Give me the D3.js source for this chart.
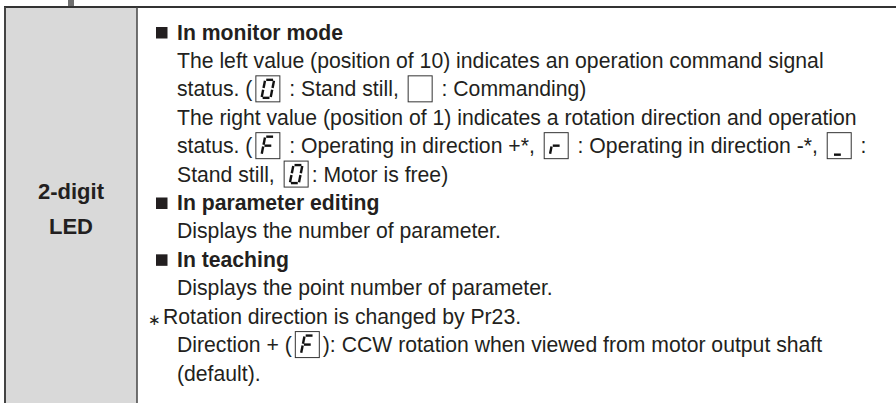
<!DOCTYPE html>
<html><head><meta charset="utf-8">
<script src="https://cdn.jsdelivr.net/npm/d3@7"></script>
<style>body{margin:0;background:#fff}svg{display:block}</style>
</head><body>
<svg id="c" width="896" height="403"></svg>
<script>
// ---- content ----
const labelLines = ["2-digit", "LED"];
const lineKinds = ["head","body","body","body","body","body","head","body","head","body","note","body","body"];
const lineSegments = [
  [{t:"In monitor mode"}],
  [{t:"The left value (position of 10) indicates an operation command signal"}],
  [{t:"status. ("},{g:"0"},{t:" : Stand still, "},{g:" "},{t:" : Commanding)"}],
  [{t:"The right value (position of 1) indicates a rotation direction and operation"}],
  [{t:"status. ("},{g:"F"},{t:" : Operating in direction +*, "},{g:"r"},{t:" : Operating in direction -*, "},{g:"_"},{t:" :"}],
  [{t:"Stand still, "},{g:"0"},{t:": Motor is free)"}],
  [{t:"In parameter editing"}],
  [{t:"Displays the number of parameter."}],
  [{t:"In teaching"}],
  [{t:"Displays the point number of parameter."}],
  [{t:"Rotation direction is changed by Pr23."}],
  [{t:"Direction + ("},{g:"F"},{t:"): CCW rotation when viewed from motor output shaft"}],
  [{t:"(default)."}]
];
// seven-segment glyph definitions (segments lit)
const glyphSegments = {"0":["a","b","c","d","e","f"], "F":["a","e","f","g"], "r":["e","g"], "_":["d"], " ":[]};

// ---- drawing ----
const svg = d3.select("#c");
const W = 896, H = 403;
const ink = "#231f20";
const font = "'Liberation Sans', Arial, Helvetica, sans-serif";
const fs = 21.2;

const rowIndex = d3.range(lineSegments.length);
const y = d3.scaleLinear().domain([0, lineSegments.length - 1]).range([39.5, 380.5]);

const leftX0 = 5, leftX1 = 137, topY = 7;

// left label cell
svg.append("rect").attr("x", leftX0).attr("y", topY).attr("width", leftX1 - leftX0).attr("height", H - topY)
  .attr("fill", "#d9d9d9");
// small stub above
svg.append("rect").attr("x", 68).attr("y", 0).attr("width", 6).attr("height", topY).attr("fill", "#6f6f6f");
// borders
svg.append("line").attr("x1", 4).attr("x2", W).attr("y1", topY).attr("y2", topY).attr("stroke", "#333").attr("stroke-width", 2);
svg.append("line").attr("x1", leftX0).attr("x2", leftX0).attr("y1", topY).attr("y2", H).attr("stroke", "#444").attr("stroke-width", 2);
svg.append("line").attr("x1", leftX1).attr("x2", leftX1).attr("y1", topY).attr("y2", H).attr("stroke", "#444").attr("stroke-width", 1.5);

// label
const labelY = d3.scaleLinear().domain([0, labelLines.length - 1]).range([198.5, 234]);
svg.selectAll("text.lab").data(labelLines).join("text").attr("class", "lab")
  .attr("x", (leftX0 + leftX1) / 2).attr("y", (d, i) => labelY(i))
  .attr("text-anchor", "middle").attr("font-family", font).attr("font-weight", "bold")
  .attr("font-size", 22).attr("fill", ink).text(d => d);

// seven-seg geometry
const segDef = {
  a: [[0.12,0],[0.88,0]], b: [[1,0.1],[1,0.9]], c: [[1,1.1],[1,1.9]],
  d: [[0.12,2],[0.88,2]], e: [[0,1.1],[0,1.9]], f: [[0,0.1],[0,0.9]], g: [[0.12,1],[0.88,1]]
};
const boxW = 25, boxH = 27, gap = 3;
function drawGlyph(g, x, base, ch) {
  const top = base - 21;
  g.append("rect").attr("x", x + 0.5).attr("y", top + 0.5).attr("width", boxW - 1).attr("height", boxH - 1)
    .attr("fill", "none").attr("stroke", "#333").attr("stroke-width", 1);
  const cx = x + boxW / 2, cy = top + boxH / 2;
  const gw = 9, gh = 18, slant = 1.8;
  const px = p => cx + (p[0] - 0.5) * gw - (p[1] - 1) * slant;
  const py = p => cy + (p[1] - 1) * gh / 2;
  g.selectAll(null).data(glyphSegments[ch]).join("line")
    .attr("x1", s => px(segDef[s][0])).attr("y1", s => py(segDef[s][0]))
    .attr("x2", s => px(segDef[s][1])).attr("y2", s => py(segDef[s][1]))
    .attr("stroke", "#111").attr("stroke-width", 2.4).attr("stroke-linecap", "butt");
}

const rows = svg.selectAll("g.row").data(rowIndex).join("g").attr("class", "row");
rows.each(function (i) {
  const g = d3.select(this);
  const base = y(i);
  const kind = lineKinds[i];
  let x = kind === "note" ? 163 : 177;
  if (kind === "head") {
    g.append("rect").attr("x", 156).attr("y", base - 12.5).attr("width", 11.5).attr("height", 11.5).attr("fill", ink);
  }
  if (kind === "note") {
    g.append("text").attr("x", 148).attr("y", base + 1).attr("font-family", "'DejaVu Sans', sans-serif")
      .attr("font-size", 15).attr("fill", ink).text("\u2217");
  }
  lineSegments[i].forEach(seg => {
    if (seg.t !== undefined) {
      const t = g.append("text").attr("x", x).attr("y", base)
        .attr("font-family", font).attr("font-size", fs).attr("fill", ink)
        .attr("font-weight", kind === "head" ? "bold" : "normal")
        .style("white-space", "pre").text(seg.t);
      x += t.node().getComputedTextLength();
    } else {
      x += gap;
      drawGlyph(g, x, base, seg.g);
      x += boxW + gap;
    }
  });
});
</script>
</body></html>
